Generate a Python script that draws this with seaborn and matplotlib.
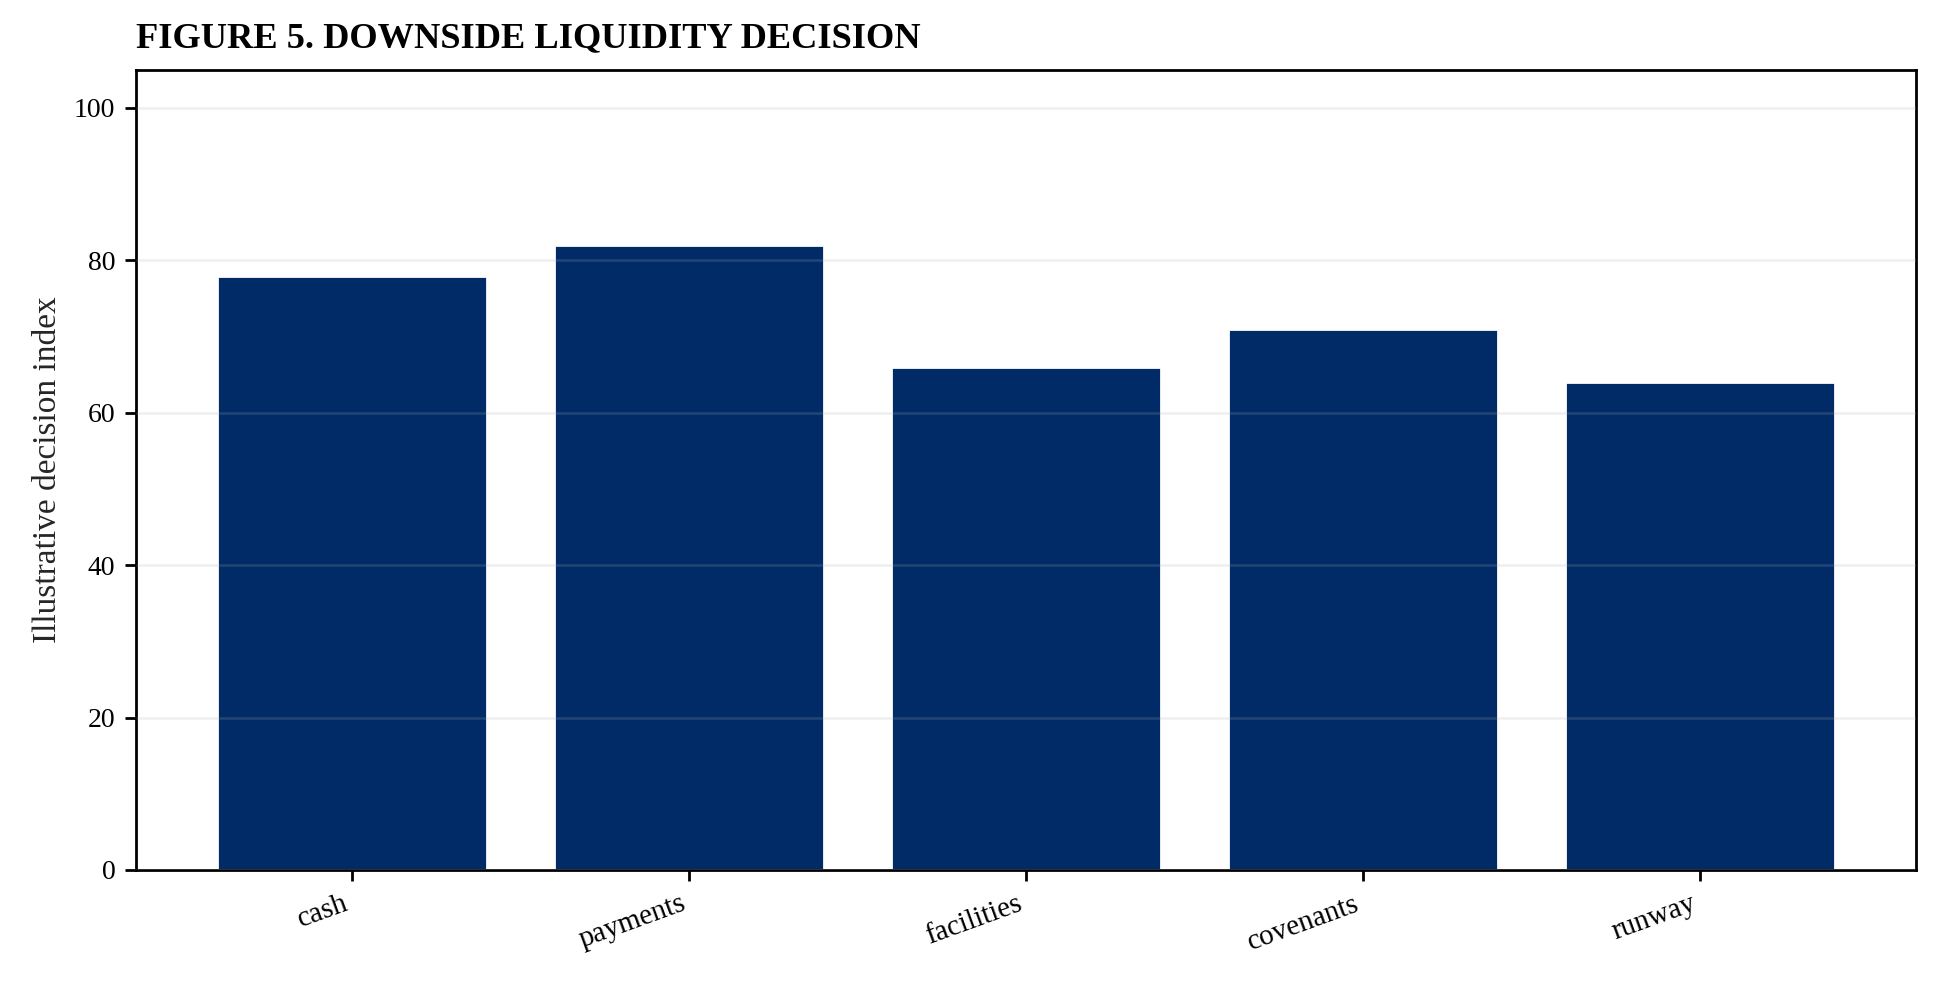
import matplotlib
matplotlib.use("Agg")
import matplotlib.pyplot as plt
import seaborn as sns
import pandas as pd

# 데이터
categories = ["cash", "payments", "facilities", "covenants", "runway"]
index_values = [78, 82, 66, 71, 64]
y_ticks = [0, 20, 40, 60, 80, 100]

sns.set_style("ticks")
plt.rcParams["font.family"] = ["Liberation Serif", "DejaVu Serif"]

df = pd.DataFrame({"area": categories, "index": index_values})

fig, ax = plt.subplots(figsize=(9.695, 4.915), dpi=200)
sns.barplot(data=df, x="area", y="index", color="#002B66", saturation=1,
            width=0.8, ax=ax)

ax.set_xlim(-0.64, len(categories) - 1 + 0.64)
ax.set_ylim(0, 105)
ax.set_yticks(y_ticks)
ax.set_xlabel("")
ax.set_ylabel("Illustrative decision index", fontsize=12)
ax.set_title("FIGURE 5. DOWNSIDE LIQUIDITY DECISION", loc="left",
             fontsize=13.1, fontweight="bold", pad=8, color="black")

# 격자는 막대 위에 살짝
ax.set_axisbelow(False)
ax.grid(axis="y", color="#b0b0b0", alpha=0.2, linewidth=0.9)
ax.tick_params(axis="y", labelsize=10, width=1, length=4, colors="black")
ax.tick_params(axis="x", labelsize=10.5, width=1, length=4, colors="black")
plt.setp(ax.get_xticklabels(), rotation=20, ha="right")
for s in ax.spines.values():
    s.set_visible(True)
    s.set_linewidth(1)
    s.set_color("black")

fig.subplots_adjust(left=0.0703, right=0.988, top=0.929, bottom=0.115)
fig.savefig("out.png", dpi=200)
plt.close(fig)
